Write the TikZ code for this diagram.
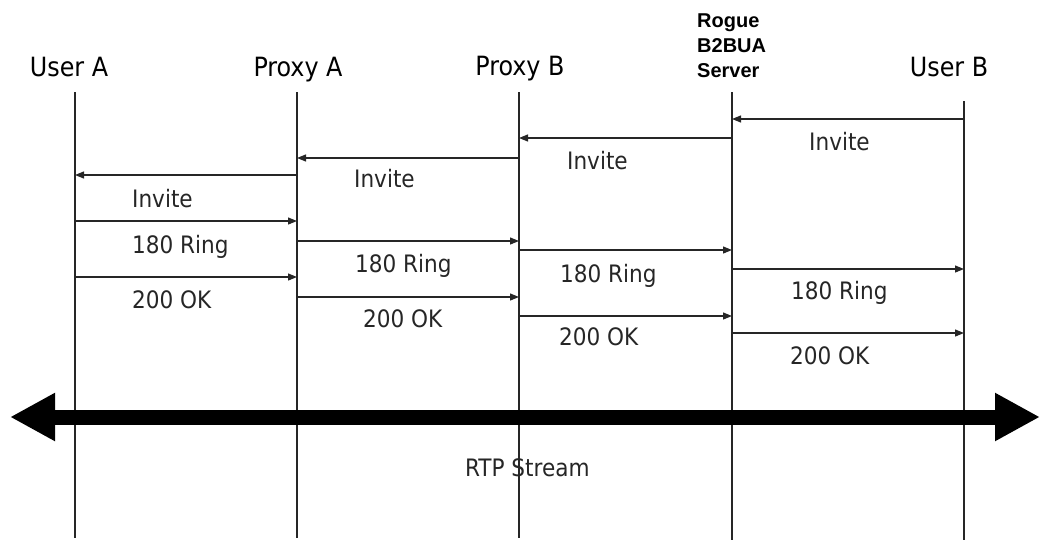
\documentclass[tikz,border=0pt]{standalone}
\usepackage{fontspec}
\usetikzlibrary{arrows.meta}
\newfontfamily\lblfont{DejaVu Sans Condensed}
\newfontfamily\rogfont{Liberation Sans}
\begin{document}
\begin{tikzpicture}[x=1pt,y=-1pt,
  life/.style={line width=1.3pt,draw=black!85},
  msg/.style={line width=1.2pt,draw=black!85,-{Triangle[length=9pt,width=7pt]}},
  lbl/.style={anchor=base west,inner sep=0pt,text=black!85,font=\lblfont\fontsize{24}{28}\selectfont},
  head/.style={anchor=base,inner sep=0pt,font=\lblfont\fontsize{26.5}{30}\selectfont},
  rtp/.style={line width=15pt,{Triangle[length=45pt,width=45pt]}-{Triangle[length=45pt,width=45pt]}}
]
\useasboundingbox (0,0) rectangle (1041,544);
% headers
\node[head] (hua) at (69,76) {User A};
\node[head] (hpa) at (298,76) {Proxy A};
\node[head] (hpb) at (520,75) {Proxy B};
\node[head] (hub) at (949,76) {User B};
\node[anchor=base west,inner sep=0pt,align=left,font=\rogfont\bfseries\fontsize{20}{25}\selectfont] (hrg) at (697,77) {Rogue\\B2BUA\\Server};
% lifelines
\coordinate (uaT) at (75,92);  \coordinate (uaB) at (75,538);
\coordinate (paT) at (297,92); \coordinate (paB) at (297,538);
\coordinate (pbT) at (519,92); \coordinate (pbB) at (519,538);
\coordinate (rgT) at (732,92); \coordinate (rgB) at (732,540);
\coordinate (ubT) at (964,101); \coordinate (ubB) at (964,540);
\foreach \l in {ua,pa,pb,rg,ub} \draw[life] (\l T) -- (\l B);
% messages
\foreach \i/\a/\b/\y in {1/964/732/119, 2/732/519/138, 3/519/297/158, 4/297/75/175,
  5/75/297/221, 6/297/519/241, 7/519/732/250, 8/732/964/269,
  9/75/297/277, 10/297/519/297, 11/519/732/316, 12/732/964/333}
{
  \coordinate (m\i s) at (\a,\y);
  \coordinate (m\i e) at (\b,\y);
  \draw[msg] (m\i s) -- (m\i e);
}
% labels
\node[lbl] (l1) at (809,150) {Invite};
\node[lbl] (l2) at (567,169) {Invite};
\node[lbl] (l3) at (354,187) {Invite};
\node[lbl] (l4) at (132,207) {Invite};
\node[lbl] (l5) at (132,253) {180 Ring};
\node[lbl] (l6) at (355,272) {180 Ring};
\node[lbl] (l7) at (560,282) {180 Ring};
\node[lbl] (l8) at (791,299) {180 Ring};
\node[lbl] (l9) at (132,308) {200 OK};
\node[lbl] (l10) at (363,327) {200 OK};
\node[lbl] (l11) at (559,345) {200 OK};
\node[lbl] (l12) at (790,364) {200 OK};
% RTP stream
\coordinate (rtpL) at (10,417);
\coordinate (rtpR) at (1040,417);
\draw[rtp] (rtpL) -- (rtpR);
\node[lbl] (rtpLbl) at (465,476) {RTP Stream};
\end{tikzpicture}
\end{document}
